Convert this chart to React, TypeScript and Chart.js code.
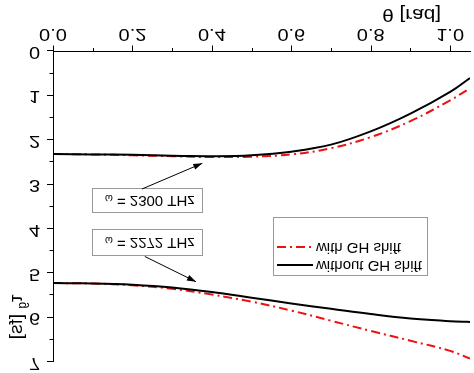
import React, { useEffect, useRef } from 'react';
import { Chart, registerables } from 'chart.js';

Chart.register(...registerables);

// ---- data ----
const THETA = [0, 0.1, 0.2, 0.3, 0.4, 0.5, 0.6, 0.7, 0.8, 0.9, 1.0, 1.05];
// omega = 2300 THz
const TAU_2300_WITHOUT = [2.31, 2.32, 2.33, 2.35, 2.36, 2.34, 2.26, 2.1, 1.8, 1.4, 0.91, 0.6];
const TAU_2300_WITH = [2.31, 2.32, 2.34, 2.36, 2.38, 2.37, 2.32, 2.18, 1.93, 1.57, 1.1, 0.83];
// omega = 2272 THz
const TAU_2272_WITHOUT = [5.22, 5.23, 5.26, 5.32, 5.42, 5.55, 5.68, 5.8, 5.92, 6.02, 6.08, 6.1];
const TAU_2272_WITH = [5.22, 5.23, 5.27, 5.35, 5.48, 5.64, 5.84, 6.07, 6.3, 6.52, 6.75, 6.92];

const X_TICKS = [0, 0.2, 0.4, 0.6, 0.8, 1.0];
const X_TICK_LABELS = ['0.0', '0.2', '0.4', '0.6', '0.8', '1.0'];
const Y_TICKS = [0, 1, 2, 3, 4, 5, 6, 7];
const Y_TICK_LABELS = ['0', '1', '2', '3', '4', '5', '6', '7'];
const SERIES_LABELS = ['without GH shift', 'with GH shift'];
const X_TITLE = 'θ [rad]';
const Y_TITLE_MAIN = 'τ';
const Y_TITLE_SUB = 'g';
const Y_TITLE_UNIT = ' [fs]';
const ANNOTATION_OMEGA = 'ω';
const ANNOTATION_TEXTS = [' = 2300 THz', ' = 2272 THz'];
// annotation geometry in data units: box [x0,x1,y0,y1], arrow [fromX,fromY,toX,toY]
const ANNOTATION_BOXES = [
  [0.098, 0.374, 3.1, 3.65],
  [0.098, 0.374, 4.03, 4.62],
];
const ANNOTATION_ARROWS = [
  [0.224, 3.1, 0.376, 2.52],
  [0.231, 4.62, 0.36, 5.19],
];

const FONT = '"Liberation Sans", Arial, sans-serif';

const pts = (ys: number[]) => THETA.map((x, i) => ({ x, y: ys[i] }));

const decorPlugin = {
  id: 'decor',
  afterDraw(chart: any) {
    const ctx = chart.ctx as CanvasRenderingContext2D;
    const xs = chart.scales.x;
    const ys = chart.scales.y;
    const area = chart.chartArea;
    ctx.save();
    ctx.strokeStyle = '#000';
    ctx.fillStyle = '#000';
    ctx.lineWidth = 1;

    // x ticks (outward)
    for (let i = 0; i <= 10; i++) {
      const v = i / 10;
      const px = Math.round(xs.getPixelForValue(v)) + 0.5;
      const len = i % 2 === 0 ? 6 : 3.5;
      ctx.beginPath();
      ctx.moveTo(px, area.bottom);
      ctx.lineTo(px, area.bottom + len);
      ctx.stroke();
    }
    // y ticks (outward)
    for (let i = 0; i <= 14; i++) {
      const v = i / 2;
      const py = Math.round(ys.getPixelForValue(v)) + 0.5;
      const len = i % 2 === 0 ? 6 : 3.5;
      ctx.beginPath();
      ctx.moveTo(area.left, py);
      ctx.lineTo(area.left - len, py);
      ctx.stroke();
    }

    // tick labels (wide font)
    ctx.font = `16px ${FONT}`;
    ctx.textBaseline = 'middle';
    ctx.textAlign = 'center';
    X_TICKS.forEach((v, i) => {
      const px = xs.getPixelForValue(v);
      ctx.save();
      ctx.translate(px, area.bottom + 18);
      ctx.scale(1.25, 1);
      ctx.fillText(X_TICK_LABELS[i], 0, 0);
      ctx.restore();
    });
    ctx.textAlign = 'right';
    Y_TICKS.forEach((v, i) => {
      const py = ys.getPixelForValue(v);
      ctx.save();
      ctx.translate(area.left - 13, py);
      ctx.scale(1.25, 1);
      ctx.fillText(Y_TICK_LABELS[i], 0, 0);
      ctx.restore();
    });

    // x title
    ctx.font = `18px ${FONT}`;
    ctx.textAlign = 'right';
    ctx.textBaseline = 'middle';
    ctx.save();
    ctx.translate(441, area.bottom + 38);
    ctx.scale(1.15, 1);
    ctx.fillText(X_TITLE, 0, 0);
    ctx.restore();

    // y title (rotated)
    ctx.save();
    ctx.translate(17, area.top + 45);
    ctx.rotate(-Math.PI / 2);
    ctx.textAlign = 'left';
    ctx.textBaseline = 'middle';
    ctx.font = `19px ${FONT}`;
    const wMain = ctx.measureText(Y_TITLE_MAIN).width;
    ctx.font = `12px ${FONT}`;
    const wSub = ctx.measureText(Y_TITLE_SUB).width;
    ctx.font = `19px ${FONT}`;
    const wUnit = ctx.measureText(Y_TITLE_UNIT).width;
    const total = wMain + wSub + wUnit;
    let x0 = -total / 2;
    ctx.fillText(Y_TITLE_MAIN, x0, 0);
    x0 += wMain;
    ctx.font = `12px ${FONT}`;
    ctx.fillText(Y_TITLE_SUB, x0, 6);
    x0 += wSub;
    ctx.font = `19px ${FONT}`;
    ctx.fillText(Y_TITLE_UNIT, x0, 0);
    ctx.restore();

    // legend
    const ds = chart.data.datasets;
    const lx = 273, ly = 97, lw = 154, lh = 58;
    ctx.fillStyle = '#fff';
    ctx.fillRect(lx, ly, lw, lh);
    ctx.strokeStyle = '#999';
    ctx.lineWidth = 1;
    ctx.strokeRect(lx + 0.5, ly + 0.5, lw, lh);
    SERIES_LABELS.forEach((label, i) => {
      const d = ds.find((s: any) => s.label === label);
      const yy = ly + 11 + i * 18;
      ctx.save();
      ctx.strokeStyle = d.borderColor;
      ctx.lineWidth = d.borderWidth;
      ctx.setLineDash(d.borderDash || []);
      ctx.beginPath();
      ctx.moveTo(lx + 4, yy);
      ctx.lineTo(lx + 40, yy);
      ctx.stroke();
      ctx.restore();
      ctx.fillStyle = '#000';
      ctx.font = `15px ${FONT}`;
      ctx.textAlign = 'left';
      ctx.textBaseline = 'middle';
      ctx.fillText(label, lx + 43, yy);
    });

    // annotation boxes + arrows
    ANNOTATION_BOXES.forEach((b, i) => {
      const bx0 = xs.getPixelForValue(b[0]);
      const bx1 = xs.getPixelForValue(b[1]);
      const by0 = ys.getPixelForValue(b[3]);
      const by1 = ys.getPixelForValue(b[2]);
      ctx.fillStyle = '#fff';
      ctx.fillRect(bx0, by0, bx1 - bx0, by1 - by0);
      ctx.strokeStyle = '#999';
      ctx.lineWidth = 1;
      ctx.strokeRect(Math.round(bx0) + 0.5, Math.round(by0) + 0.5, Math.round(bx1 - bx0), Math.round(by1 - by0));
      ctx.fillStyle = '#000';
      ctx.textBaseline = 'alphabetic';
      ctx.textAlign = 'left';
      const base = (by0 + by1) / 2 + 5;
      ctx.font = `10px ${FONT}`;
      ctx.fillText(ANNOTATION_OMEGA, bx0 + 13, base + 1);
      const wo = ctx.measureText(ANNOTATION_OMEGA).width;
      ctx.font = `15px ${FONT}`;
      ctx.fillText(ANNOTATION_TEXTS[i], bx0 + 13 + wo, base);

      const a = ANNOTATION_ARROWS[i];
      const ax0 = xs.getPixelForValue(a[0]);
      const ay0 = ys.getPixelForValue(a[1]);
      const ax1 = xs.getPixelForValue(a[2]);
      const ay1 = ys.getPixelForValue(a[3]);
      ctx.strokeStyle = '#000';
      ctx.lineWidth = 1;
      ctx.beginPath();
      ctx.moveTo(ax0, ay0);
      ctx.lineTo(ax1, ay1);
      ctx.stroke();
      const ang = Math.atan2(ay1 - ay0, ax1 - ax0);
      const hl = 9, hw = 3;
      ctx.fillStyle = '#000';
      ctx.beginPath();
      ctx.moveTo(ax1, ay1);
      ctx.lineTo(ax1 - hl * Math.cos(ang) + hw * Math.sin(ang), ay1 - hl * Math.sin(ang) - hw * Math.cos(ang));
      ctx.lineTo(ax1 - hl * Math.cos(ang) - hw * Math.sin(ang), ay1 - hl * Math.sin(ang) + hw * Math.cos(ang));
      ctx.closePath();
      ctx.fill();
    });

    ctx.restore();
  },
};

export default function App() {
  const ref = useRef<HTMLCanvasElement | null>(null);

  useEffect(() => {
    document.body.style.margin = '0';
    if (!ref.current) return;
    const black = { borderColor: '#000000', borderWidth: 2, borderDash: [] as number[] };
    const red = { borderColor: '#ee1111', borderWidth: 2, borderDash: [9, 4, 2, 4] };
    const common = { pointRadius: 0, fill: false, tension: 0.4 };
    const chart = new Chart(ref.current, {
      type: 'line',
      data: {
        datasets: [
          { label: SERIES_LABELS[0], data: pts(TAU_2300_WITHOUT), ...black, ...common },
          { label: SERIES_LABELS[1], data: pts(TAU_2300_WITH), ...red, ...common },
          { label: SERIES_LABELS[0] + ' ', data: pts(TAU_2272_WITHOUT), ...black, ...common },
          { label: SERIES_LABELS[1] + ' ', data: pts(TAU_2272_WITH), ...red, ...common },
        ],
      },
      options: {
        responsive: false,
        animation: false,
        devicePixelRatio: 1,
        layout: { padding: { top: 11, right: 4, left: 0, bottom: 0 } },
        plugins: { legend: { display: false }, tooltip: { enabled: false } },
        scales: {
          x: {
            type: 'linear',
            min: 0,
            max: 1.05,
            ticks: { display: false },
            grid: { display: false },
            border: { display: true, color: '#000', width: 1 },
            afterFit: (s: any) => { s.height = 51.5; },
          },
          y: {
            type: 'linear',
            min: 0,
            max: 7,
            ticks: { display: false },
            grid: { display: false },
            border: { display: true, color: '#000', width: 1 },
            afterFit: (s: any) => { s.width = 53; },
          },
        },
      },
      plugins: [decorPlugin],
    });
    return () => chart.destroy();
  }, []);

  return (
    <div style={{ position: 'absolute', left: 0, top: 0, width: 474, height: 373, background: '#fff' }}>
      <canvas ref={ref} width={474} height={373} style={{ display: 'block', transform: 'scaleY(-1)' }} />
    </div>
  );
}
